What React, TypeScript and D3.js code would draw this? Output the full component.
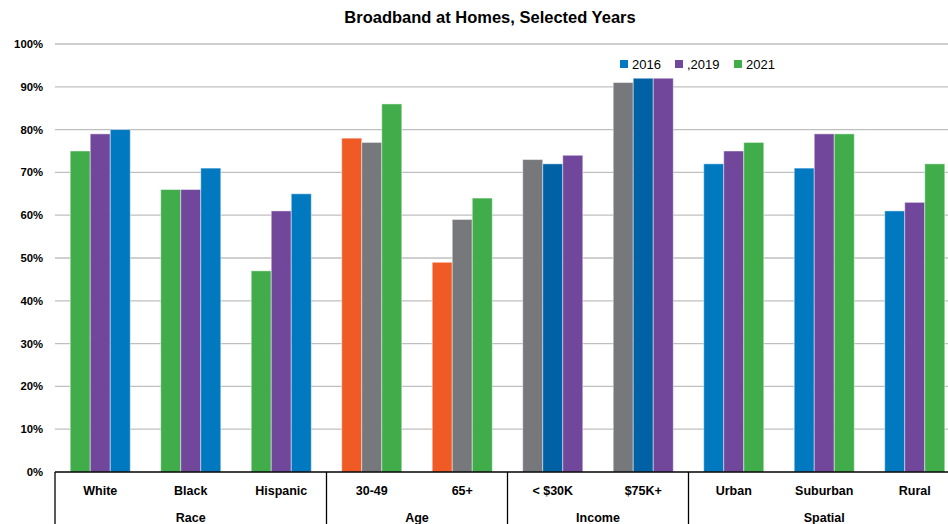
import React from "react";
import * as d3 from "d3";

const categories = ["White", "Black", "Hispanic", "30-49", "65+", "< $30K", "$75K+", "Urban", "Suburban", "Rural"];
const groups = ["Race", "Race", "Race", "Age", "Age", "Income", "Income", "Spatial", "Spatial", "Spatial"];
const barA = [75, 66, 47, 78, 49, 73, 91, 72, 71, 61];
const barB = [79, 66, 61, 77, 59, 72, 92, 75, 79, 63];
const barC = [80, 71, 65, 86, 64, 74, 92, 77, 79, 72];
const colorA = ["green", "green", "green", "orange", "orange", "gray", "gray", "blue", "blue", "blue"];
const colorB = ["purple", "purple", "purple", "gray", "gray", "navy", "navy", "purple", "purple", "purple"];
const colorC = ["blue", "blue", "blue", "green", "green", "purple", "purple", "green", "green", "green"];
const legendLabels = ["2016", ",2019", "2021"];
const legendColors = ["blue", "purple", "green"];
const yTicks = [0, 10, 20, 30, 40, 50, 60, 70, 80, 90, 100];

const palette: Record<string, string> = {
  green: "#41AD4A",
  purple: "#71479B",
  blue: "#0079C1",
  navy: "#0062A5",
  gray: "#77787B",
  orange: "#F05A24",
};

const W = 948;
const H = 524;
const left = 55;
const top = 44;
const bottom = 472;
const bandW = 90.5;
const FONT = "'Liberation Sans', Arial, sans-serif";

export default function App() {
  const x = d3.scaleBand<string>().domain(categories).range([left, left + bandW * categories.length]).paddingInner(0).paddingOuter(0);
  const y = d3.scaleLinear().domain([0, 100]).range([bottom, top]);
  const inner = d3.scaleBand<number>().domain([0, 1, 2]).range([0, x.bandwidth()]).paddingInner(0).paddingOuter(0.76);
  const barVals = [barA, barB, barC];
  const barCols = [colorA, colorB, colorC];

  const spans: { name: string; start: number; end: number }[] = [];
  groups.forEach((g, i) => {
    const last = spans[spans.length - 1];
    if (last && last.name === g) last.end = i;
    else spans.push({ name: g, start: i, end: i });
  });

  return (
    <svg width={W} height={H} style={{ position: "absolute", left: 0, top: 0, background: "#fff" }} fontFamily={FONT}>
      <text x={490} y={23} textAnchor="middle" fontSize={16.5} fontWeight="bold" fill="#000">
        Broadband at Homes, Selected Years
      </text>
      {yTicks.map((t) => (
        <g key={t}>
          {t > 0 && <line x1={left} x2={W} y1={y(t)} y2={y(t)} stroke="#BFBFBF" strokeWidth={1.3} />}
          <text x={43} y={y(t) + 4} textAnchor="end" fontSize={11.3} fontWeight="bold" fill="#000">
            {t}%
          </text>
        </g>
      ))}
      {categories.map((c, i) =>
        [0, 1, 2].map((k) => {
          const v = barVals[k][i];
          const bx = (x(c) as number) + (inner(k) as number);
          return (
            <rect
              key={c + k}
              x={bx}
              y={y(v)}
              width={inner.bandwidth()}
              height={bottom - y(v)}
              fill={palette[barCols[k][i]]}
              stroke="rgba(255,255,255,0.45)"
              strokeWidth={1}
            />
          );
        })
      )}
      <line x1={left} x2={W} y1={bottom} y2={bottom} stroke="#000" strokeWidth={1.3} />
      {spans.map((s) => (
        <g key={s.name}>
          <line x1={x(categories[s.start]) as number} x2={x(categories[s.start]) as number} y1={bottom} y2={H} stroke="#000" strokeWidth={1.3} />
          <text
            x={((x(categories[s.start]) as number) + (x(categories[s.end]) as number) + x.bandwidth()) / 2}
            y={522}
            textAnchor="middle"
            fontSize={12.5}
            fontWeight="bold"
            fill="#000"
          >
            {s.name}
          </text>
        </g>
      ))}
      {categories.map((c) => (
        <text key={c} x={(x(c) as number) + x.bandwidth() / 2} y={495} textAnchor="middle" fontSize={12.5} fontWeight="bold" fill="#000">
          {c}
        </text>
      ))}
      {legendLabels.map((l, i) => {
        const lx = [620, 675, 734][i];
        return (
          <g key={l}>
            <rect x={lx} y={60} width={8} height={8} fill={palette[legendColors[i]]} />
            <text x={lx + 12} y={69} fontSize={13} fill="#000">
              {l}
            </text>
          </g>
        );
      })}
    </svg>
  );
}
